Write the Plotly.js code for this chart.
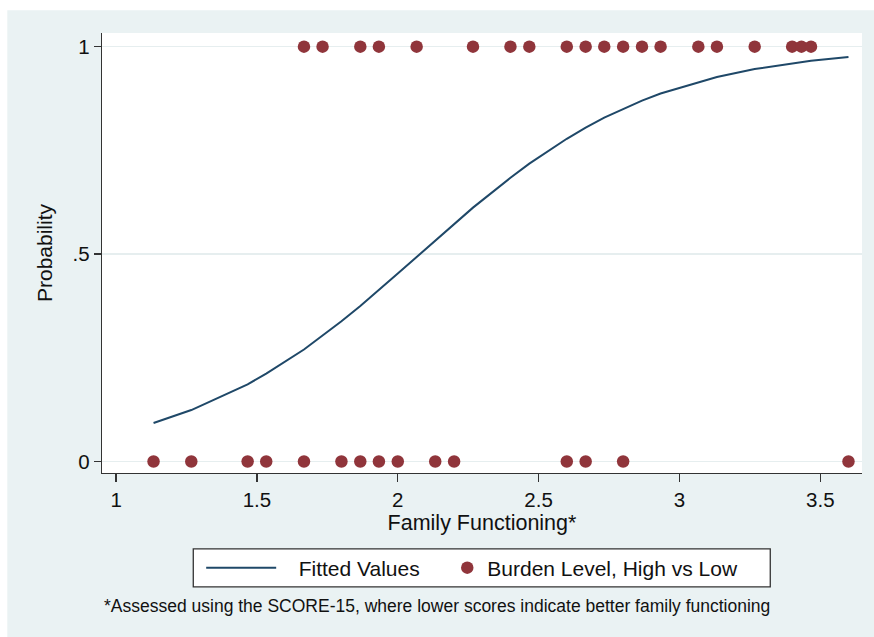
<!DOCTYPE html>
<html>
<head>
<meta charset="utf-8">
<script src="https://cdn.plot.ly/plotly-3.0.1.min.js"></script>
<style>
  html, body { margin: 0; padding: 0; background: #ffffff; }
  #chart { width: 874px; height: 637px; }
</style>
</head>
<body>
<div id="chart"></div>
<script>
// Family functioning scores (SCORE-15) of participants with high burden (1)
var highBurdenX = [1.667, 1.733, 1.867, 1.933, 2.067, 2.267, 2.400, 2.467, 2.600, 2.667,
                   2.733, 2.800, 2.867, 2.933, 3.067, 3.133, 3.267, 3.400, 3.433, 3.467];
var highBurdenY = [1, 1, 1, 1, 1, 1, 1, 1, 1, 1, 1, 1, 1, 1, 1, 1, 1, 1, 1, 1];

// ... and with low burden (0)
var lowBurdenX = [1.133, 1.267, 1.467, 1.533, 1.667, 1.800, 1.867, 1.933, 2.000, 2.133,
                  2.200, 2.600, 2.667, 2.800, 3.600];
var lowBurdenY = [0, 0, 0, 0, 0, 0, 0, 0, 0, 0, 0, 0, 0, 0, 0];

// Fitted probabilities from the logistic model at each observed score
var fitX = [1.133, 1.267, 1.467, 1.533, 1.667, 1.733, 1.800, 1.867, 1.933, 2.000,
            2.067, 2.133, 2.200, 2.267, 2.400, 2.467, 2.600, 2.667, 2.733, 2.800,
            2.867, 2.933, 3.067, 3.133, 3.267, 3.400, 3.433, 3.467, 3.600];
var fitY = [0.093, 0.124, 0.186, 0.212, 0.270, 0.303, 0.338, 0.375, 0.413, 0.453,
            0.493, 0.533, 0.573, 0.612, 0.684, 0.718, 0.778, 0.805, 0.829, 0.850,
            0.870, 0.887, 0.915, 0.927, 0.946, 0.960, 0.963, 0.966, 0.975];

// Axis ticks
var xTickVals = [1, 1.5, 2, 2.5, 3, 3.5];
var xTickText = ['1', '1.5', '2', '2.5', '3', '3.5'];
var yTickVals = [0, 0.5, 1];
var yTickText = ['0', '.5', '1'];

var FONT = 'Liberation Sans, Arial, Helvetica, sans-serif';
var INK = '#111111';
var REGION = '#eaf2f3';
var MAROON = '#90353b';
var NAVY = '#1f4868';
var NBSP = '\u00a0';

var traces = [
  {
    x: fitX, y: fitY,
    type: 'scatter', mode: 'lines',
    name: NBSP + NBSP + NBSP + 'Fitted Values',
    legend: 'legend',
    line: { color: NAVY, width: 2 },
    hoverinfo: 'skip'
  },
  {
    x: highBurdenX.concat(lowBurdenX),
    y: highBurdenY.concat(lowBurdenY),
    type: 'scatter', mode: 'markers',
    name: 'Burden Level, High vs Low',
    legend: 'legend2',
    marker: { color: MAROON, size: 12.5, line: { width: 0 } }
  }
];

var legendBase = {
  orientation: 'h',
  xanchor: 'left',
  y: -0.216, yanchor: 'middle',
  bgcolor: 'rgba(0,0,0,0)',
  borderwidth: 0,
  font: { family: FONT, size: 21, color: INK }
};

var layout = {
  width: 874,
  height: 637,
  margin: { l: 102, r: 12, t: 33, b: 164 },
  paper_bgcolor: '#ffffff',
  plot_bgcolor: '#ffffff',
  font: { family: FONT, color: INK, size: 20 },
  showlegend: true,
  xaxis: {
    range: [0.95, 3.648],
    tickvals: xTickVals,
    ticktext: xTickText,
    ticks: 'outside',
    ticklen: 8,
    tickwidth: 1.3,
    tickcolor: '#333333',
    showline: true,
    linecolor: '#333333',
    linewidth: 1.3,
    showgrid: false,
    zeroline: false,
    tickfont: { family: FONT, size: 20.5, color: INK },
    title: { text: 'Family Functioning*', font: { family: FONT, size: 21.5, color: INK }, standoff: 1 }
  },
  yaxis: {
    range: [-0.0277, 1.033],
    tickvals: yTickVals,
    ticktext: yTickText,
    ticks: 'outside',
    ticklen: 7,
    tickwidth: 1.3,
    tickcolor: '#333333',
    showline: true,
    linecolor: '#333333',
    linewidth: 1.3,
    showgrid: true,
    gridcolor: '#e6eeef',
    gridwidth: 1.3,
    zeroline: false,
    tickfont: { family: FONT, size: 20.5, color: INK },
    title: { text: 'Probability', font: { family: FONT, size: 21, color: INK }, standoff: 14 }
  },
  legend: Object.assign({}, legendBase, { x: 0.1305, itemwidth: 70 }),
  legend2: Object.assign({}, legendBase, { x: 0.4543, itemwidth: 30 }),
  shapes: [
    // graph region background
    { type: 'rect', xref: 'paper', yref: 'paper', layer: 'below',
      x0: -0.1246, x1: 1.02, y0: -0.38, y1: 1.0516,
      fillcolor: REGION, line: { width: 0 } },
    // plot area
    { type: 'rect', xref: 'paper', yref: 'paper', layer: 'below',
      x0: 0, x1: 1, y0: 0, y1: 1,
      fillcolor: '#ffffff', line: { width: 0 } },
    // legend frame
    { type: 'rect', xref: 'paper', yref: 'paper', layer: 'below',
      x0: 0.1201, x1: 0.8793, y0: -0.2589, y1: -0.1726,
      fillcolor: '#ffffff', line: { color: '#333333', width: 1.3 } }
  ],
  annotations: [
    { xref: 'paper', yref: 'paper', x: 0.441, y: -0.302,
      xanchor: 'center', yanchor: 'middle', showarrow: false,
      text: '*Assessed using the SCORE-15, where lower scores indicate better family functioning',
      font: { family: FONT, size: 17.5, color: INK } }
  ]
};

Plotly.newPlot('chart', traces, layout, { displayModeBar: false, staticPlot: true });
</script>
</body>
</html>
